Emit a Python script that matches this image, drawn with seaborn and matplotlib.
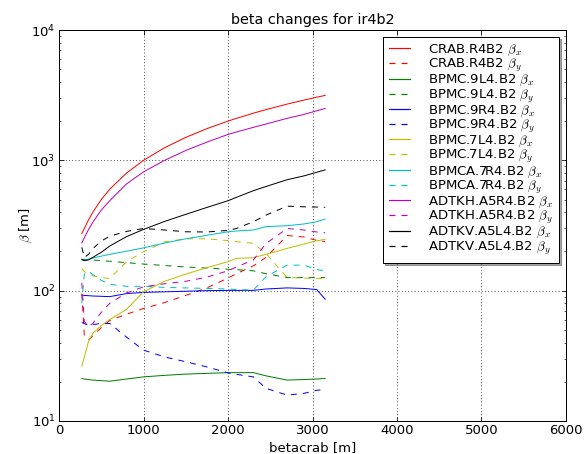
import matplotlib
matplotlib.use("Agg")
import matplotlib.pyplot as plt
from matplotlib.lines import Line2D
import seaborn as sns
import numpy as np
import pandas as pd

# ---- data ----
betacrab = [270, 300, 350, 400, 500, 600, 800, 1000, 1250, 1500, 1750,
            2000, 2100, 2300, 2450, 2700, 2900, 3050, 3150]

crab_bx = [275, 300, 350, 400, 500, 600, 800, 1000, 1250, 1500, 1750,
           2000, 2100, 2300, 2450, 2700, 2900, 3050, 3150]
crab_by = [95, 45, 42, 45, 52, 59, 66, 73, 81, 92, 105,
           125, 135, 155, 180, 265, 258, 243, 238]
bpmc9l4_bx = [21.2, 21.0, 20.8, 20.6, 20.4, 20.2, 21.0, 21.8, 22.4, 22.9, 23.2,
              23.5, 23.5, 23.5, 22.2, 20.6, 20.8, 21.0, 21.2]
bpmc9l4_by = [174, 174, 173, 172, 170, 168, 164, 160, 156, 152, 149,
              146, 145, 142, 135, 126, 126, 126, 126]
bpmc9r4_bx = [92.5, 92, 91.5, 91, 90.5, 90, 95, 97, 98, 99, 100,
              100.5, 100.5, 100.5, 103, 105, 104, 102, 86]
bpmc9r4_by = [57, 56, 54, 55, 56, 56, 44, 35, 31, 28.5, 26,
              23.4, 22.8, 21.8, 17.8, 15.8, 16.3, 17.2, 17.5]
bpmc7l4_bx = [26.4, 31, 41, 47, 54, 60, 72, 98, 118, 134, 150,
              167, 177, 179, 190, 211, 228, 241, 248]
bpmc7l4_by = [148, 140, 135, 130, 126, 124, 167, 199, 237, 250, 250,
              242, 238, 231, 193, 126, 125, 124, 124]
bpmca7r4_bx = [172, 172, 175, 178, 184, 190, 201, 213, 232, 250, 266,
               283, 287, 292, 310, 315, 325, 338, 355]
bpmca7r4_by = [80, 135, 140, 133, 120, 112, 108, 108, 106, 105, 104,
               103, 102, 101, 128, 157, 157, 145, 142]
adtkh_bx = [232, 255, 295, 335, 415, 490, 660, 815, 1000, 1190, 1380,
            1580, 1650, 1790, 1900, 2100, 2250, 2400, 2500]
adtkh_by = [115, 58, 53, 56, 68, 80, 96, 107, 113, 118, 127,
            142, 152, 172, 230, 300, 292, 282, 278]
adtkv_bx = [174, 170, 172, 180, 197, 220, 260, 295, 340, 385, 435,
            490, 520, 585, 630, 710, 760, 810, 845]
adtkv_by = [215, 180, 190, 210, 240, 262, 285, 300, 292, 283, 282,
            290, 300, 338, 380, 445, 440, 438, 436]

series_names = ["CRAB.R4B2", "BPMC.9L4.B2", "BPMC.9R4.B2", "BPMC.7L4.B2",
                "BPMCA.7R4.B2", "ADTKH.A5R4.B2", "ADTKV.A5L4.B2"]
series_bx = [crab_bx, bpmc9l4_bx, bpmc9r4_bx, bpmc7l4_bx, bpmca7r4_bx, adtkh_bx, adtkv_bx]
series_by = [crab_by, bpmc9l4_by, bpmc9r4_by, bpmc7l4_by, bpmca7r4_by, adtkh_by, adtkv_by]
colors = ["#ff0000", "#008000", "#0000ff", "#bfbf00", "#00bfbf", "#bf00bf", "#000000"]

# ---- style ----
plt.rcParams.update({
    "font.family": ["DejaVu Sans"],
    "mathtext.fontset": "cm",
    "xtick.direction": "in",
    "ytick.direction": "in",
    "xtick.top": True,
    "ytick.right": True,
    "xtick.major.size": 4.5,
    "ytick.major.size": 4.5,
    "xtick.minor.size": 2.2,
    "ytick.minor.size": 2.2,
    "axes.linewidth": 1.0,
})

FS = 13.3
fig = plt.figure(figsize=(587 / 72, 454 / 72), dpi=72)
ax = fig.add_axes([59 / 587, 1 - 421 / 454, (566 - 59) / 587, (421 - 30) / 454])

dash = (0, (6, 6))
handles, labels = [], []
for name, bx, by, c in zip(series_names, series_bx, series_by, colors):
    sns.lineplot(x=betacrab, y=bx, ax=ax, color=c, linewidth=1.0,
                 estimator=None, sort=False, legend=False)
    handles.append(Line2D([], [], color=c, linewidth=1.2, linestyle="-"))
    labels.append(rf"{name} $\beta_x$")
    sns.lineplot(x=betacrab, y=by, ax=ax, color=c, linewidth=1.0,
                 linestyle=dash, estimator=None, sort=False, legend=False)
    handles.append(Line2D([], [], color=c, linewidth=1.2, linestyle=(0, (5, 5))))
    labels.append(rf"{name} $\beta_y$")

ax.set_yscale("log")
ax.set_xlim(0, 6000)
ax.set_ylim(10, 1e4)
ax.set_xticks([0, 1000, 2000, 3000, 4000, 5000, 6000])
ax.tick_params(labelsize=FS)
ax.grid(True, which="major", linestyle=(0, (1, 3)), color="black", linewidth=0.8)
ax.set_xlabel("betacrab [m]", fontsize=FS)
ax.set_ylabel(r"$\beta$ [m]", fontsize=FS, labelpad=-3)
ax.set_title("beta changes for ir4b2", fontsize=14.4)

leg = ax.legend(handles, labels, loc="upper right", fontsize=FS, shadow=True,
                fancybox=False, framealpha=1.0, edgecolor="black",
                labelspacing=-0.08, handlelength=1.6, handletextpad=1.35,
                borderaxespad=0.5, borderpad=0.45)
leg.get_frame().set_linewidth(1.0)

fig.savefig("out.png", dpi=72)
